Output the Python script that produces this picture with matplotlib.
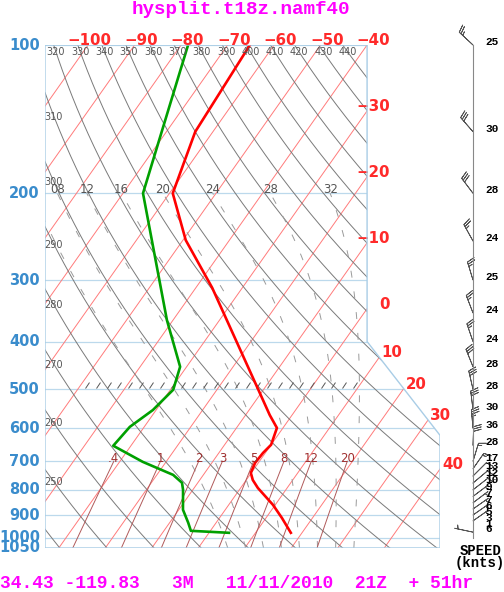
import numpy as np
import matplotlib.pyplot as plt
from matplotlib.patches import Polygon
from matplotlib.path import Path

plt.rcParams['lines.scale_dashes'] = False

# temperature profile (hPa, deg C)
temp_p = [100, 150, 200, 249, 311, 501, 564, 599, 648, 673, 705, 739, 764, 793, 858, 912, 978]
temp_t = [-65.2, -63.8, -59.3, -49.4, -36.5, -11.1, -4.8, -1.3, 0.0, -0.5, -0.7, -0.1, 1.4, 3.7, 9.5, 13.4, 17.6]

# dew point profile
dewp_p = [100, 200, 362, 450, 501, 551, 596, 651, 702, 746, 774, 800, 878, 933, 969, 978]
dewp_t = [-78.5, -65.7, -41.3, -31.4, -29.4, -30.7, -33.1, -33.8, -25.0, -16.5, -13.4, -12.1, -9.1, -6.0, -4.2, 4.3]

# winds (hPa, knots, direction from)
wind_p = [100, 150, 200, 250, 300, 350, 400, 450, 500, 550, 600, 650,
          700, 725, 750, 775, 800, 825, 850, 875, 900, 925, 950, 975]
wind_spd = [25, 30, 28, 24, 25, 24, 24, 28, 28, 30, 36, 28,
            17, 13, 12, 10, 9, 7, 7, 6, 5, 3, 1, 6]
wind_dir = [313, 319, 323, 331, 343, 339, 341, 338, 347, 353, 355, 2,
            17, 35, 45, 50, 52, 53, 53, 55, 55, 55, 55, 282]

# background lines
plev = [100, 200, 300, 400, 500, 600, 700, 800, 900, 1000, 1050]
isotherms = list(range(-100, 41, 10))
dry_theta = list(range(200, 451, 10))
dry_labels = list(range(250, 441, 10))
moist_thw = [4, 8, 12, 16, 20, 24, 28, 32]
moist_labels = [8, 12, 16, 20, 24, 28, 32]
mix_ratio = [0.4, 1, 2, 3, 5, 8, 12, 20]
mix_text = ['.4', '1', '2', '3', '5', '8', '12', '20']

title = 'hysplit.t18z.namf40'
footer = '34.43 -119.83   3M   11/11/2010  21Z  + 51hr'

BLUE = '#3a8ccc'
RED = '#ff2a2a'
FRAME = '#a9cde6'
GRID = '#bcd9ec'
MAG = '#ff00ff'

K = 32.45  # skew, deg C per ln(p)


def skx(t, p):
    return np.asarray(t, dtype=float) - K * np.log(np.asarray(p, dtype=float) / 1000.0)


def moist_adiabat(thw, p_top=200.0):
    # pseudo-adiabat integrated from 1000 hPa
    def dtdp(t, p):
        es = 6.112 * np.exp(17.67 * (t - 273.15) / (t - 29.65))
        rs = 0.622 * es / (p - es)
        return (287.0 * t + 2.5e6 * rs) / (p * (1005.0 + 2.5e6 ** 2 * rs * 0.622 / (287.0 * t ** 2)))

    up = np.linspace(1000, p_top, 801)
    down = np.linspace(1000, 1050, 51)
    out = []
    for grid in (up, down):
        t = thw + 273.15
        ts = [t]
        for i in range(1, len(grid)):
            dp = grid[i] - grid[i - 1]
            k1 = dtdp(t, grid[i - 1])
            k2 = dtdp(t + k1 * dp, grid[i])
            t = t + 0.5 * (k1 + k2) * dp
            ts.append(t)
        out.append(np.array(ts) - 273.15)
    p = np.concatenate([down[::-1], up[1:]])
    t = np.concatenate([out[1][::-1], out[0][1:]])
    return p, t


def mix_dewpoint(w, p):
    e = w / 1000.0 * p / (0.622 + w / 1000.0)
    a = np.log(e / 6.112)
    return 243.5 * a / (17.67 - a)


fig = plt.figure(figsize=(5.04, 5.92), dpi=100)
ax = fig.add_axes([45 / 504, 44 / 592, 395 / 504, 503 / 592])
ax.set_yscale('log')
xl, xr2 = -34.55, 50.4
ax.set_xlim(xl, xr2)
ax.set_ylim(1050, 100)
ax.axis('off')

xr1 = float(skx(-40, 100))
frame = Polygon([(xl, 100), (xr1, 100), (xr1, 400), (xr2, 620), (xr2, 1050), (xl, 1050)],
                closed=True, fill=False, ec=FRAME, lw=1.0, zorder=6)
ax.add_patch(frame)


def clipped(lines):
    for ln in lines:
        ln.set_clip_path(frame)


# pressure lines
for p in plev:
    clipped(ax.plot([xl, xr2], [p, p], color=GRID, lw=0.9, zorder=1))
    ax.annotate(str(p), (0, p), xycoords=('axes fraction', 'data'), xytext=(-5, 0),
                textcoords='offset pixels', ha='right', va='center', color=BLUE,
                fontsize=10.5, fontweight='bold', annotation_clip=False)

pp = np.geomspace(100, 1050, 3000)
xb = np.interp(np.log(pp), np.log([100, 400, 620, 1050]), [xr1, xr1, xr2, xr2])

# isotherms
for t in isotherms:
    clipped(ax.plot(skx(t, [100, 1050]), [100, 1050], color='#ff7b7b', lw=0.7, zorder=2))
    xs = skx(t, pp)
    ok = (xs <= xb + 1e-9) & (xs >= xl)
    if ok.any():
        i = np.argmax(ok)
        ax.annotate(str(t).replace('-', '\u2212'), (xs[i], pp[i]), xytext=(23, 4.5),
                    textcoords='offset pixels', ha='right', va='center', color=RED,
                    fontsize=10.8, fontweight='bold', annotation_clip=False)

# dry adiabats
lab_x = xl + 9 / 4.65
lab_ptop = 100 * np.exp(7 / 214)
for th in dry_theta:
    tt = th * (pp / 1000.0) ** 0.2857 - 273.15
    xs = skx(tt, pp)
    clipped(ax.plot(xs, pp, color='#7a7a7a', lw=0.7, zorder=2))
    if th in dry_labels:
        xtop = float(np.interp(np.log(lab_ptop), np.log(pp), xs))
        if xtop >= lab_x:
            pos = (xtop, lab_ptop)
        else:
            pos = (lab_x, float(np.exp(np.interp(lab_x, xs, np.log(pp)))))
        ax.text(pos[0], pos[1], str(th), ha='center', va='center', fontsize=7,
                color='#555555', zorder=7)

# moist adiabats
for thw in moist_thw:
    mp, mt = moist_adiabat(thw)
    xs = skx(mt, mp)
    clipped(ax.plot(xs, mp, color='#9a9a9a', lw=0.7, dashes=(5, 10), zorder=2))
    if thw in moist_labels:
        ax.annotate('%02d' % thw, (xs[-1], 200), xytext=(0, 4), textcoords='offset pixels',
                    ha='center', va='center', fontsize=8.5, color='#555555', zorder=7)

# mixing ratio lines
mpres = np.linspace(700, 1050, 30)
for w, s in zip(mix_ratio, mix_text):
    xs = skx(mix_dewpoint(w, mpres), mpres)
    clipped(ax.plot(xs, mpres, color='#b05a5a', lw=0.7, zorder=2))
    ax.annotate(s, (xs[0], 700), xytext=(0, 3), textcoords='offset pixels', ha='center',
                va='center', fontsize=8.5, color='#a03030', zorder=7)

# hatch marks along 500 hPa
slash = Path([(-2.0, 1.0), (2.0, 7.0)], [Path.MOVETO, Path.LINETO])
ax.plot(np.linspace(-25.5, 32.1, 26), np.full(26, 500), ls='none', marker=slash,
        markersize=10, mec='#555555', mew=0.7, zorder=3)

# sounding
ax.plot(skx(temp_t, temp_p), temp_p, color='#ff0000', lw=1.9, zorder=5)
ax.plot(skx(dewp_t, dewp_p), dewp_p, color='#00a000', lw=1.9, zorder=5)

# wind barbs
bax = fig.add_axes([445 / 504, 44 / 592, 59 / 504, 503 / 592])
bax.set_yscale('log')
bax.set_xlim(0, 59)
bax.set_ylim(1050, 100)
bax.axis('off')
bax.plot([28, 28], [100, 1000], color='#888888', lw=0.8)
rad = np.deg2rad(wind_dir)
spd = np.array(wind_spd, dtype=float)
u = -spd * np.sin(rad)
v = -spd * np.cos(rad)
bax.barbs(np.full(len(wind_p), 28.0), wind_p, u, v, length=5.2, lw=0.6,
          color='#555555', sizes=dict(emptybarb=0.0), clip_on=False)
for p, s in zip(wind_p, wind_spd):
    bax.annotate(str(s), (28, p), xytext=(12, 3), textcoords='offset pixels', ha='left',
                 va='center', fontsize=8, fontfamily='Liberation Mono', fontweight='bold',
                 annotation_clip=False)

fig.text(481 / 504, 1 - 551 / 592, 'SPEED', ha='center', va='center', fontsize=10,
         fontfamily='Liberation Mono', fontweight='bold')
fig.text(480 / 504, 1 - 563 / 592, '(knts)', ha='center', va='center', fontsize=10,
         fontfamily='Liberation Mono', fontweight='bold')
fig.text(241 / 504, 1 - 10 / 592, title, ha='center', va='center', fontsize=13.9,
         fontfamily='Liberation Mono', fontweight='bold', color=MAG)
fig.text(0, 1 - 584 / 592, footer, ha='left', va='center', fontsize=13,
         fontfamily='Liberation Mono', fontweight='bold', color=MAG)

fig.savefig('out.png', dpi=100)
